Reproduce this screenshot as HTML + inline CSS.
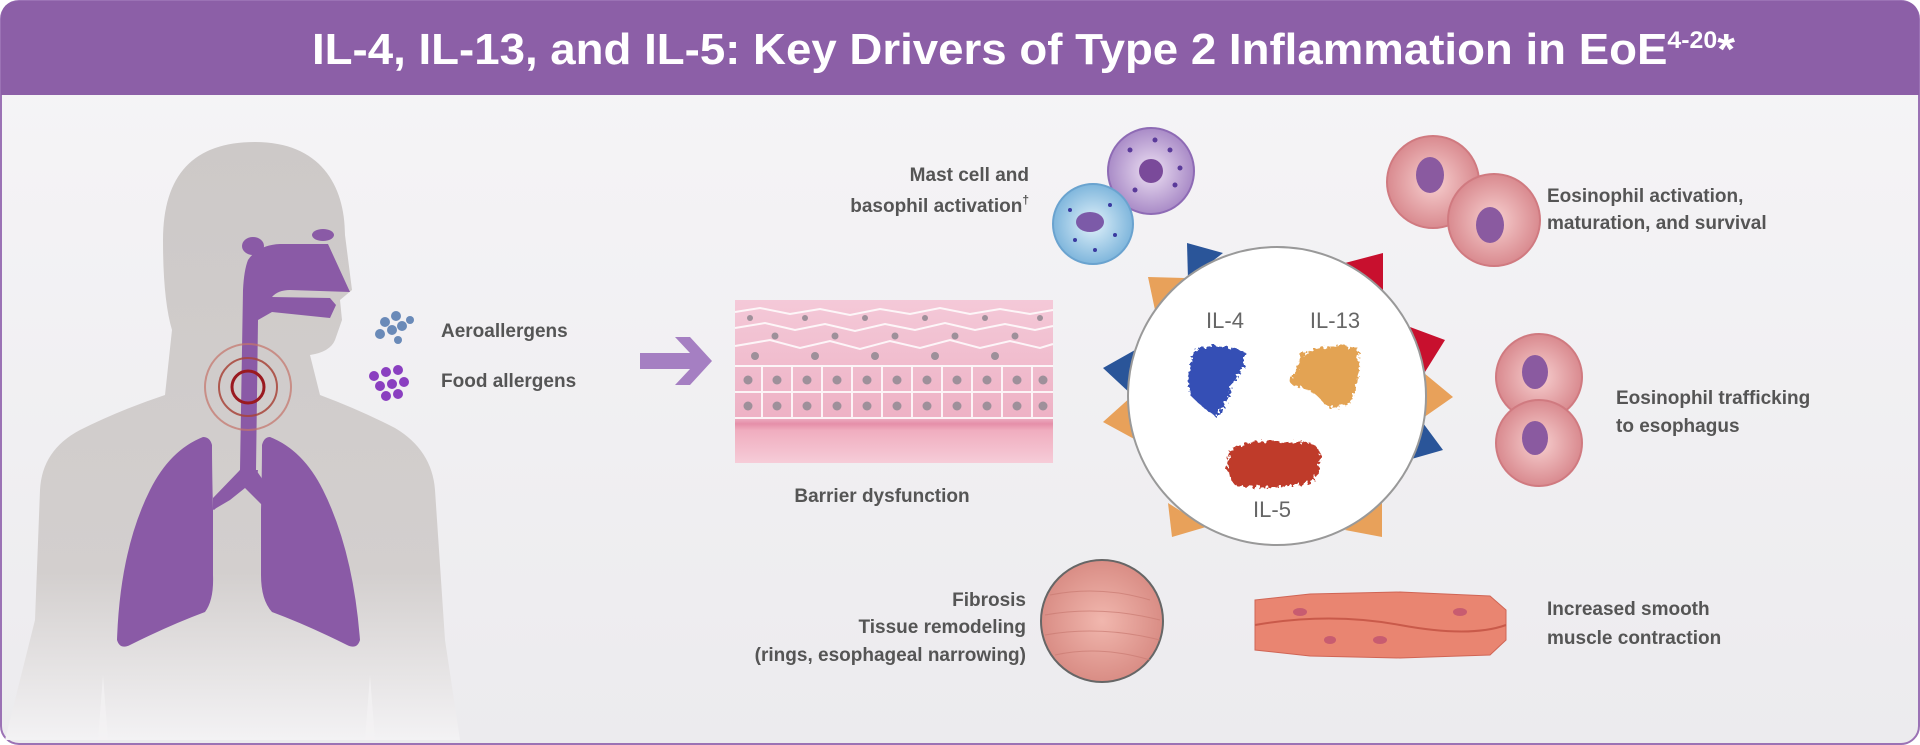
<!DOCTYPE html>
<html><head><meta charset="utf-8"><style>
html,body{margin:0;padding:0;background:#fff}
svg{display:block}
text{font-family:"Liberation Sans",sans-serif}
</style></head><body>
<svg width="1920" height="745" viewBox="0 0 1920 745" xmlns="http://www.w3.org/2000/svg">
<defs>
<linearGradient id="bg" x1="0" y1="0" x2="0" y2="1"><stop offset="0" stop-color="#f6f5f7"/><stop offset="1" stop-color="#ecebee"/></linearGradient>
<linearGradient id="body" x1="0" y1="0" x2="0" y2="1"><stop offset="0" stop-color="#cdc9c8"/><stop offset="0.72" stop-color="#d3cfce"/><stop offset="1" stop-color="#f3f2f4"/></linearGradient>
<linearGradient id="tis" x1="0" y1="0" x2="0" y2="1"><stop offset="0" stop-color="#f4c9d8"/><stop offset="0.72" stop-color="#eeb2c5"/><stop offset="0.76" stop-color="#e58fa9"/><stop offset="0.8" stop-color="#f0adbf"/><stop offset="1" stop-color="#f6ccd8"/></linearGradient>
<radialGradient id="eo"><stop offset="0" stop-color="#f7d0d0"/><stop offset="1" stop-color="#d98a8f"/></radialGradient>
<radialGradient id="mast"><stop offset="0" stop-color="#ede0f3"/><stop offset="1" stop-color="#a98bc7"/></radialGradient>
<radialGradient id="baso"><stop offset="0" stop-color="#e0f1fa"/><stop offset="1" stop-color="#7fb6dc"/></radialGradient>
<radialGradient id="fib"><stop offset="0" stop-color="#f1b7ae"/><stop offset="1" stop-color="#d98d85"/></radialGradient>
<filter id="fuzz" x="-20%" y="-20%" width="140%" height="140%"><feTurbulence type="fractalNoise" baseFrequency="0.25" numOctaves="2" result="n"/><feDisplacementMap in="SourceGraphic" in2="n" scale="9"/></filter>
</defs>
<rect x="1" y="1" width="1918" height="743" rx="18" fill="url(#bg)" stroke="#9b72b5" stroke-width="2"/>
<path d="M1 19 Q1 1 19 1 H1901 Q1919 1 1919 19 V95 H1 Z" fill="#8c5fa7"/>
<text x="312" y="64" font-size="44" font-weight="bold" fill="#fff" textLength="1423" lengthAdjust="spacingAndGlyphs">IL-4, IL-13, and IL-5: Key Drivers of Type 2 Inflammation in EoE<tspan font-size="24" dy="-16">4-20</tspan><tspan font-size="44" dy="16">*</tspan></text>

<!-- body -->
<path d="M255 142 C320 142 345 185 345 235 L352 290 L340 300 L342 320 L335 340 Q330 352 310 355 L320 395 Q360 410 395 428 Q432 450 435 490 L445 640 L460 740 L5 740 L35 620 L40 490 Q42 450 80 430 Q120 410 165 395 L172 330 Q163 300 163 240 Q163 142 255 142 Z" fill="url(#body)"/>
<path d="M103 675 L108 740 L98 740 Z M370 675 L365 740 L375 740 Z" fill="#f3f2f4" opacity=".7"/>
<!-- airway -->
<ellipse cx="253" cy="246" rx="11" ry="9" fill="#8a5aa6"/>
<ellipse cx="323" cy="235" rx="11" ry="6" fill="#8a5aa6"/>
<path d="M248 260 Q258 245 280 244 L328 244 L350 292 L290 290 Q278 290 272 297 L330 298 L336 305 L330 318 L272 312 L258 320 L256 470 L240 470 L243 290 Q244 270 248 260 Z" fill="#8a5aa6"/>
<path d="M240 470 L227 490 L213 502 L214 510 L240 485 L256 485 L258 470 Z" fill="#8a5aa6"/>
<path d="M256 470 L270 490 L262 505 L256 485 Z" fill="#8a5aa6"/>
<path d="M203 437 Q170 450 150 490 Q120 550 117 640 Q120 650 130 645 Q170 625 205 612 Q214 600 213 575 L213 510 Q212 470 212 445 Q210 437 203 437 Z" fill="#8a5aa6"/>
<path d="M270 437 Q303 450 323 490 Q353 550 360 640 Q357 650 347 645 Q307 625 272 612 Q261 600 261 575 L261 510 Q262 470 262 445 Q264 437 270 437 Z" fill="#8a5aa6"/>
<path d="M240 470 L256 470 L262 480 L262 505 L245 488 L230 500 L213 510 L213 498 Z" fill="#8a5aa6"/>
<circle cx="248" cy="387" r="16" fill="none" stroke="#9a1a20" stroke-width="3"/>
<circle cx="248" cy="387" r="29" fill="none" stroke="#a8443a" stroke-width="2" opacity=".85"/>
<circle cx="248" cy="387" r="43" fill="none" stroke="#c4736a" stroke-width="2" opacity=".7"/>

<!-- allergens -->
<g fill="#6a8ab8"><circle cx="385" cy="322" r="5"/><circle cx="396" cy="316" r="5"/><circle cx="392" cy="330" r="5"/><circle cx="402" cy="326" r="5"/><circle cx="380" cy="334" r="5"/><circle cx="410" cy="320" r="4"/><circle cx="398" cy="340" r="4"/></g>
<g fill="#8a3fc0"><circle cx="374" cy="376" r="5"/><circle cx="386" cy="372" r="5"/><circle cx="398" cy="370" r="5"/><circle cx="380" cy="386" r="5"/><circle cx="392" cy="384" r="5"/><circle cx="404" cy="382" r="5"/><circle cx="386" cy="396" r="5"/><circle cx="398" cy="394" r="5"/></g>
<text x="441" y="337" font-size="19" font-weight="bold" fill="#555">Aeroallergens</text>
<text x="441" y="387" font-size="19" font-weight="bold" fill="#555">Food allergens</text>
<path d="M640 353 H690 L675 337 H690 L712 361 L690 385 H675 L690 369 H640 Z" fill="#a57fc2"/>

<!-- barrier tissue -->
<rect x="735" y="300" width="318" height="163" fill="url(#tis)"/>
<g fill="none" stroke="#fff" stroke-width="2" opacity=".85">
<path d="M735 312 L760 308 L790 314 L820 309 L850 315 L880 309 L910 314 L940 308 L970 314 L1000 309 L1030 314 L1053 310"/>
<path d="M735 328 L765 323 L795 330 L825 324 L855 331 L885 324 L915 330 L945 323 L975 330 L1005 324 L1035 330 L1053 326"/>
<path d="M735 346 L770 340 L800 348 L830 341 L860 349 L890 341 L920 348 L950 340 L980 348 L1010 341 L1040 348 L1053 344"/>
<path d="M735 366 H1053 M735 392 H1053 M735 418 H1053"/>
<path d="M762 366 V418 M792 366 V418 M822 366 V418 M852 366 V418 M882 366 V418 M912 366 V418 M942 366 V418 M972 366 V418 M1002 366 V418 M1032 366 V418"/>
</g>
<g fill="#9e909a">
<circle cx="750" cy="318" r="3"/><circle cx="805" cy="318" r="3"/><circle cx="865" cy="318" r="3"/><circle cx="925" cy="318" r="3"/><circle cx="985" cy="318" r="3"/><circle cx="1040" cy="318" r="3"/>
<circle cx="775" cy="336" r="3.5"/><circle cx="835" cy="336" r="3.5"/><circle cx="895" cy="336" r="3.5"/><circle cx="955" cy="336" r="3.5"/><circle cx="1015" cy="336" r="3.5"/>
<circle cx="755" cy="356" r="4"/><circle cx="815" cy="356" r="4"/><circle cx="875" cy="356" r="4"/><circle cx="935" cy="356" r="4"/><circle cx="995" cy="356" r="4"/>
<circle cx="748" cy="380" r="4.5"/><circle cx="777" cy="380" r="4.5"/><circle cx="807" cy="380" r="4.5"/><circle cx="837" cy="380" r="4.5"/><circle cx="867" cy="380" r="4.5"/><circle cx="897" cy="380" r="4.5"/><circle cx="927" cy="380" r="4.5"/><circle cx="957" cy="380" r="4.5"/><circle cx="987" cy="380" r="4.5"/><circle cx="1017" cy="380" r="4.5"/><circle cx="1043" cy="380" r="4.5"/>
<circle cx="748" cy="406" r="4.5"/><circle cx="777" cy="406" r="4.5"/><circle cx="807" cy="406" r="4.5"/><circle cx="837" cy="406" r="4.5"/><circle cx="867" cy="406" r="4.5"/><circle cx="897" cy="406" r="4.5"/><circle cx="927" cy="406" r="4.5"/><circle cx="957" cy="406" r="4.5"/><circle cx="987" cy="406" r="4.5"/><circle cx="1017" cy="406" r="4.5"/><circle cx="1043" cy="406" r="4.5"/></g>
<text x="882" y="502" text-anchor="middle" font-size="19" font-weight="bold" fill="#555">Barrier dysfunction</text>

<!-- triangles -->
<g>
<polygon points="1187,243 1188,280 1223,253" fill="#2a5599"/>
<polygon points="1148,277 1155,310 1185,278" fill="#e8a15a"/>
<polygon points="1103,368 1135,350 1132,395" fill="#2a5599"/>
<polygon points="1103,422 1132,396 1136,440" fill="#e8a15a"/>
<polygon points="1168,503 1172,537 1206,527" fill="#e8a15a"/>
<polygon points="1345,530 1382,537 1382,503" fill="#e8a15a"/>
<polygon points="1408,460 1443,450 1423,423" fill="#2a5599"/>
<polygon points="1420,420 1453,397 1424,373" fill="#e8a15a"/>
<polygon points="1410,327 1445,340 1425,372" fill="#c8102e"/>
<polygon points="1345,263 1383,253 1383,292" fill="#c8102e"/>
</g>
<circle cx="1277" cy="396" r="149" fill="#fff" stroke="#999" stroke-width="2"/>
<text x="1225" y="328" text-anchor="middle" font-size="22" fill="#666">IL-4</text>
<text x="1335" y="328" text-anchor="middle" font-size="22" fill="#666">IL-13</text>
<text x="1272" y="517" text-anchor="middle" font-size="22" fill="#666">IL-5</text>
<g filter="url(#fuzz)">
<path d="M1195 350 Q1215 340 1245 352 Q1245 370 1232 385 Q1228 405 1215 416 Q1205 410 1190 395 Q1186 370 1195 350Z" fill="#3550b5"/>
<path d="M1300 355 Q1330 342 1358 348 Q1362 375 1352 400 Q1340 412 1325 405 Q1315 390 1300 388 Q1288 385 1290 378 Q1300 370 1300 355Z" fill="#e3a352"/>
<path d="M1230 450 Q1250 438 1290 442 Q1320 440 1320 455 Q1322 480 1305 484 Q1265 490 1235 485 Q1222 470 1230 450Z" fill="#bf3a2c"/>
</g>

<!-- mast/basophil -->
<circle cx="1151" cy="171" r="43" fill="url(#mast)" stroke="#8e6bb5" stroke-width="2"/>
<circle cx="1151" cy="171" r="12" fill="#7a4a9a"/>
<g fill="#5a3a9a"><circle cx="1130" cy="150" r="2.5"/><circle cx="1170" cy="150" r="2.5"/><circle cx="1175" cy="185" r="2.5"/><circle cx="1135" cy="190" r="2.5"/><circle cx="1155" cy="140" r="2.5"/><circle cx="1180" cy="168" r="2.5"/></g>
<circle cx="1093" cy="224" r="40" fill="url(#baso)" stroke="#6aa3cf" stroke-width="2"/>
<ellipse cx="1090" cy="222" rx="14" ry="10" fill="#7c5aa8"/>
<g fill="#3a3aa0"><circle cx="1070" cy="210" r="2"/><circle cx="1110" cy="205" r="2"/><circle cx="1115" cy="235" r="2"/><circle cx="1075" cy="240" r="2"/><circle cx="1095" cy="250" r="2"/></g>
<text x="1029" y="181" text-anchor="end" font-size="19" font-weight="bold" fill="#555">Mast cell and</text>
<text x="1029" y="212" text-anchor="end" font-size="19" font-weight="bold" fill="#555">basophil activation<tspan font-size="12" dy="-8">†</tspan></text>

<!-- eosinophils -->
<circle cx="1433" cy="182" r="46" fill="url(#eo)" stroke="#d07a80" stroke-width="2"/>
<circle cx="1494" cy="220" r="46" fill="url(#eo)" stroke="#d07a80" stroke-width="2"/>
<ellipse cx="1430" cy="175" rx="14" ry="18" fill="#8a5aa0"/><ellipse cx="1490" cy="225" rx="14" ry="18" fill="#8a5aa0"/>
<text x="1547" y="202" font-size="19" font-weight="bold" fill="#555">Eosinophil activation,</text>
<text x="1547" y="229" font-size="19" font-weight="bold" fill="#555">maturation, and survival</text>
<circle cx="1539" cy="377" r="43" fill="url(#eo)" stroke="#d07a80" stroke-width="2"/>
<circle cx="1539" cy="443" r="43" fill="url(#eo)" stroke="#d07a80" stroke-width="2"/>
<ellipse cx="1535" cy="372" rx="13" ry="17" fill="#8a5aa0"/><ellipse cx="1535" cy="438" rx="13" ry="17" fill="#8a5aa0"/>
<text x="1616" y="404" font-size="19" font-weight="bold" fill="#555">Eosinophil trafficking</text>
<text x="1616" y="432" font-size="19" font-weight="bold" fill="#555">to esophagus</text>

<!-- fibrosis -->
<text x="1026" y="606" text-anchor="end" font-size="19" font-weight="bold" fill="#555">Fibrosis</text>
<text x="1026" y="633" text-anchor="end" font-size="19" font-weight="bold" fill="#555">Tissue remodeling</text>
<text x="1026" y="661" text-anchor="end" font-size="19" font-weight="bold" fill="#555">(rings, esophageal narrowing)</text>
<circle cx="1102" cy="621" r="61" fill="url(#fib)" stroke="#666" stroke-width="2"/>
<g stroke="#c97a72" stroke-width="1" fill="none" opacity=".7"><path d="M1050 595 Q1100 585 1150 600 M1045 615 Q1100 605 1160 620 M1045 635 Q1100 625 1160 640 M1055 655 Q1100 645 1150 660"/></g>

<!-- muscle -->
<path d="M1255 600 L1310 594 L1400 592 L1490 596 L1506 610 L1506 640 L1490 655 L1400 658 L1310 656 L1255 650 Z" fill="#e98571" stroke="#d06555" stroke-width="1"/>
<path d="M1255 625 Q1330 612 1400 625 T1506 625" fill="none" stroke="#c95a4a" stroke-width="2"/>
<g fill="#c85c70"><ellipse cx="1300" cy="612" rx="7" ry="4"/><ellipse cx="1380" cy="640" rx="7" ry="4"/><ellipse cx="1460" cy="612" rx="7" ry="4"/><ellipse cx="1330" cy="640" rx="6" ry="4"/></g>
<text x="1547" y="615" font-size="19" font-weight="bold" fill="#555">Increased smooth</text>
<text x="1547" y="644" font-size="19" font-weight="bold" fill="#555">muscle contraction</text>
</svg>
</body></html>
